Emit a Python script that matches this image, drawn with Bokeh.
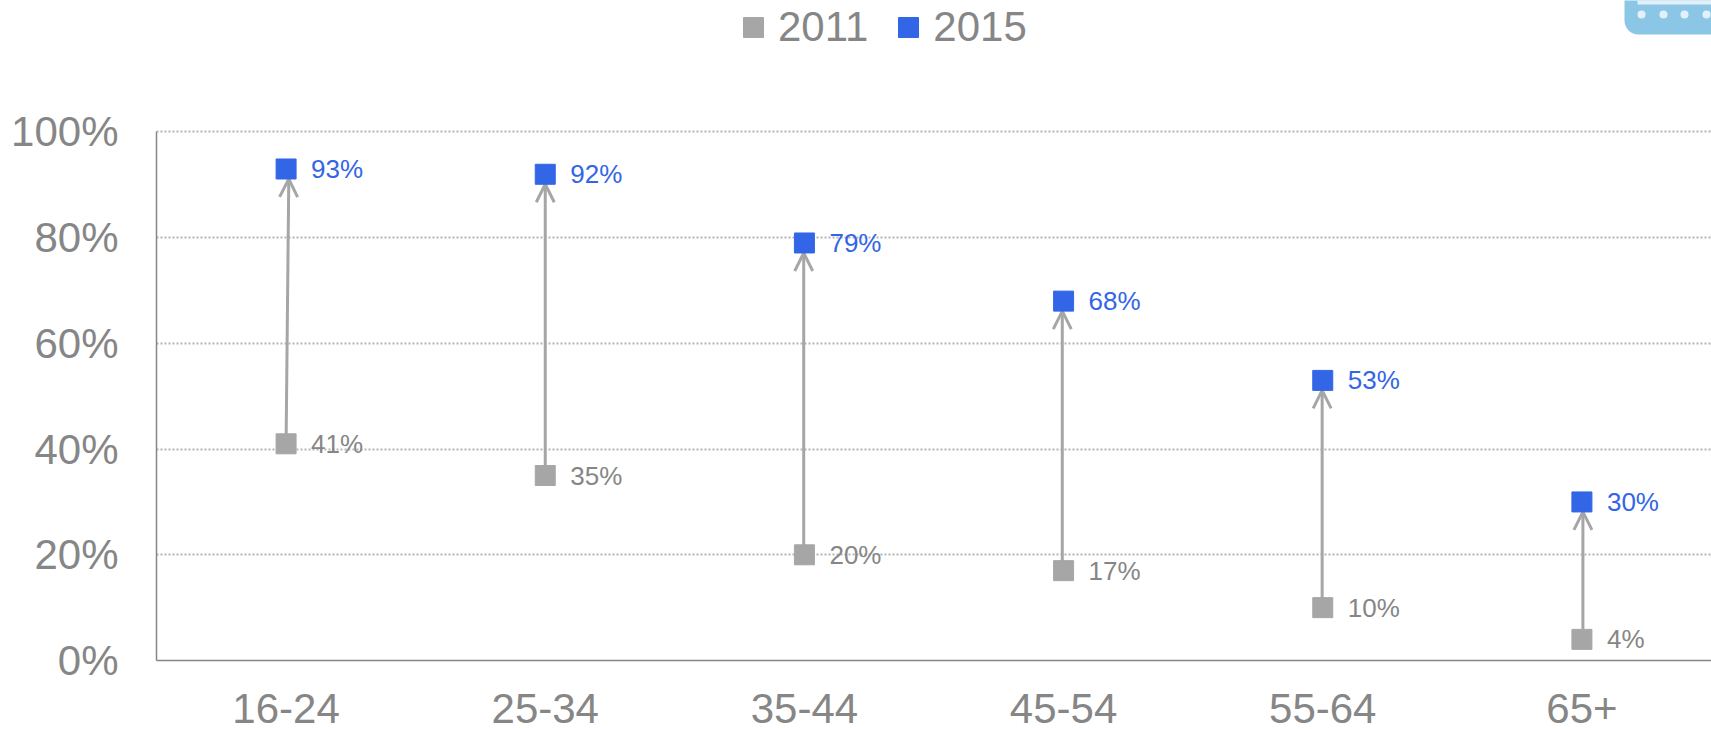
from bokeh.embed import file_html
from bokeh.resources import INLINE
from bokeh.plotting import figure
from bokeh.models import (ColumnDataSource, Range1d, FixedTicker, Arrow, OpenHead,
                          Legend, LegendItem, BoxAnnotation)
from bokeh.core.properties import value

categories = ["16-24", "25-34", "35-44", "45-54", "55-64", "65+"]
values_2011 = [41, 35, 20, 17, 10, 4]
values_2015 = [93, 92, 79, 68, 53, 30]
y_ticks = [0, 20, 40, 60, 80, 100]
# small horizontal offsets of the arrows from their markers, in pixels
arrow_shift_start = [0, 0, -0.7, -1.3, -0.6, 1]
arrow_shift_end = [2.7, 0, -0.7, -1.3, -0.6, 1]

GREY_TEXT = "#868686"
GREY_MARK = "#a6a6a6"
BLUE = "#3366e6"
GRID = "#b5b5b5"
FONT = "Liberation Sans"

W, H = 1711, 729
LEFT = 156
FRAME_W, FRAME_H = 1555, 660
Y_END = 124.88   # the frame reaches the top of the canvas, so legend and icon lie inside it
xs = list(range(len(categories)))

p = figure(width=W, height=H, output_backend="svg", toolbar_location=None,
           frame_width=FRAME_W, frame_height=FRAME_H,
           x_range=Range1d(-0.5, len(categories) - 0.5), y_range=Range1d(0, Y_END),
           min_border_left=LEFT, min_border_right=0, min_border_top=0, min_border_bottom=0)
p.outline_line_color = None
p.background_fill_color = "white"
p.border_fill_color = "white"

# axes
p.xgrid.visible = False
p.ygrid.ticker = FixedTicker(ticks=y_ticks)
p.ygrid.grid_line_color = GRID
p.ygrid.grid_line_width = 2
p.ygrid.grid_line_dash = "2 2"

p.yaxis.ticker = FixedTicker(ticks=y_ticks)
p.yaxis.bounds = (0, 100)
p.yaxis.major_label_overrides = {t: f"{t}%" for t in y_ticks}
p.yaxis.major_tick_in = 13
p.yaxis.major_tick_out = 0
p.yaxis.minor_tick_line_color = None
p.yaxis.major_label_standoff = 38
p.xaxis.ticker = FixedTicker(ticks=xs)
p.xaxis.major_label_overrides = {i: c for i, c in enumerate(categories)}
p.xaxis.major_tick_line_color = None
p.xaxis.minor_tick_line_color = None
p.xaxis.major_label_standoff = 27
for ax in (p.xaxis, p.yaxis):
    ax.axis_line_color = GREY_TEXT
    ax.axis_line_width = 1.5
    ax.major_tick_line_color = GREY_TEXT if ax is p.yaxis else None
    ax.major_tick_line_width = 1.5
    ax.major_label_text_color = GREY_TEXT
    ax.major_label_text_font = FONT
    ax.major_label_text_font_size = "42px"

src = ColumnDataSource(dict(x=xs, a=values_2011, b=values_2015,
                            la=[f"{v}%" for v in values_2011],
                            lb=[f"{v}%" for v in values_2015]))
r_a = p.scatter("x", "a", source=src, marker="square", size=20, color=GREY_MARK, level="overlay")
r_b = p.scatter("x", "b", source=src, marker="square", size=20, color=BLUE, level="overlay")
p.text("x", "a", text="la", source=src, x_offset=25, text_baseline="middle",
       text_color=GREY_TEXT, text_font=value(FONT), text_font_size="26px")
p.text("x", "b", text="lb", source=src, x_offset=25, text_baseline="middle",
       text_color=BLUE, text_font=value(FONT), text_font_size="26px")

# legend: a 50px glyph box draws a 20px square
legend = Legend(items=[LegendItem(label="2011", renderers=[r_a]),
                       LegendItem(label="2015", renderers=[r_b])],
                orientation="horizontal", location=(572, 608),
                background_fill_alpha=0, border_line_color=None,
                label_text_font=FONT, label_text_font_size="42px", label_text_color=GREY_TEXT,
                glyph_width=50, glyph_height=50, label_standoff=0, spacing=15,
                padding=0, margin=0, click_policy="none")
p.add_layout(legend, "center")

# decorative corner icon, cut by the top and right edges
p.add_layout(BoxAnnotation(left=1624, right=1730, top=-20, bottom=34,
                           left_units="canvas", right_units="canvas",
                           top_units="canvas", bottom_units="canvas",
                           fill_color="#8cc6e6", fill_alpha=1, line_color=None,
                           border_radius=14, level="annotation"))
p.add_layout(BoxAnnotation(left=1637, right=1730, top=-10, bottom=4,
                           left_units="canvas", right_units="canvas",
                           top_units="canvas", bottom_units="canvas",
                           fill_color="#e2f1f9", fill_alpha=1, line_color=None, level="annotation"))
for cx in (1641, 1663, 1684, 1706):
    p.add_layout(BoxAnnotation(left=cx - 4, right=cx + 4, top=10, bottom=18,
                               left_units="canvas", right_units="canvas",
                               top_units="canvas", bottom_units="canvas",
                               fill_color="#e2f1f9", fill_alpha=1, line_color=None,
                               border_radius=4, level="annotation"))

# arrows last: their clip path would otherwise cut what is painted after them
half_marker = 10 * Y_END / FRAME_H
x_px = len(categories) / FRAME_W
arrow_src = ColumnDataSource(dict(
    x0=[x + x_px * s for x, s in zip(xs, arrow_shift_start)],
    x1=[x + x_px * s for x, s in zip(xs, arrow_shift_end)],
    y0=[v for v in values_2011],
    y1=[v - half_marker for v in values_2015],
))
p.add_layout(Arrow(source=arrow_src, x_start="x0", y_start="y0", x_end="x1", y_end="y1",
                   line_color=GREY_MARK, line_width=3,
                   end=OpenHead(size=18, line_color=GREY_MARK, line_width=3)))

open("out.html", "w").write(file_html(p, INLINE))
